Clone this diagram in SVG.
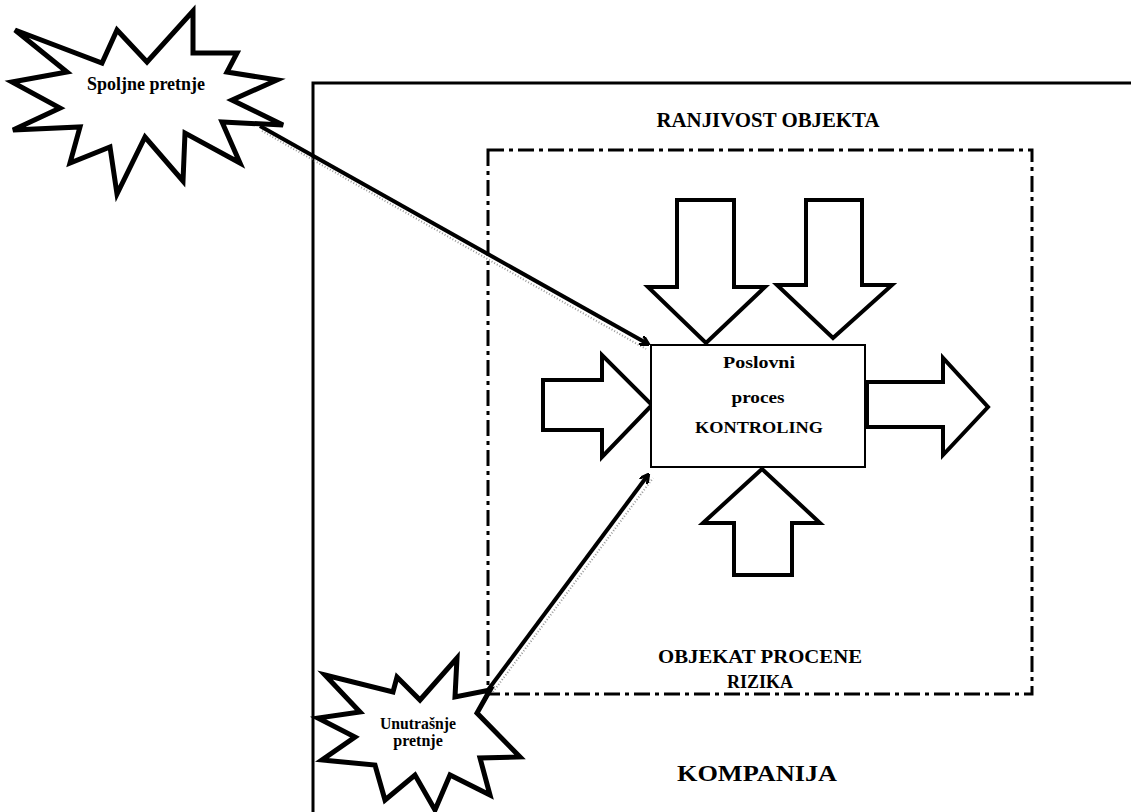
<svg xmlns="http://www.w3.org/2000/svg" width="1131" height="812" viewBox="0 0 1131 812">
<style>
.t{font-family:"Liberation Serif","Times New Roman",serif;font-weight:bold;fill:#000;text-anchor:middle}
.star{fill:#fff;stroke:#000;stroke-width:5;stroke-linejoin:miter}
.blk{fill:#fff;stroke:#000;stroke-width:4;stroke-linejoin:miter}
.conn{stroke:#000;stroke-width:4;fill:none}
.shadow{stroke:#999;stroke-width:2;stroke-dasharray:1 2;fill:none}
</style>
<defs>
<marker id="ah" markerWidth="10" markerHeight="10" refX="8" refY="5" orient="auto" markerUnits="userSpaceOnUse" viewBox="0 0 10 10">
<path d="M0,0 L9,5 L0,10" fill="none" stroke="#000" stroke-width="3"/>
</marker>
</defs>
<rect width="1131" height="812" fill="#fff"/>
<g id="kompanija">
<path d="M313,812 L313,83 L1131,83" fill="none" stroke="#000" stroke-width="3"/>
<text class="t" x="757" y="781" font-size="24" textLength="160" lengthAdjust="spacingAndGlyphs">KOMPANIJA</text>
</g>
<g id="objekat">
<rect x="488" y="150" width="544" height="544" fill="none" stroke="#000" stroke-width="3" stroke-dasharray="16 5 4 5"/>
<text class="t" x="768" y="127" font-size="20" textLength="223" lengthAdjust="spacingAndGlyphs">RANJIVOST OBJEKTA</text>
<text class="t" x="760" y="663" font-size="18" textLength="204" lengthAdjust="spacingAndGlyphs">OBJEKAT PROCENE</text>
<text class="t" x="760" y="688" font-size="18">RIZIKA</text>
</g>
<g id="arrow-top1"><polygon class="blk" points="677,200 734,200 734,287 765,287 706,343 648,287 677,287"/></g>
<g id="arrow-top2"><polygon class="blk" points="806,200 862,200 862,285 892,285 833,338 777,285 806,285"/></g>
<g id="arrow-left"><polygon class="blk" points="543,380 602,380 602,355 652,405 602,457 602,430 543,430"/></g>
<g id="arrow-right"><polygon class="blk" points="867,382 943,382 943,358 988,407 943,455 943,427 867,427"/></g>
<g id="arrow-bottom"><polygon class="blk" points="762,469 820,523 792,523 792,575 734,575 734,523 703,523"/></g>
<g id="proces">
<rect x="651" y="345" width="214" height="122" fill="#fff" stroke="#000" stroke-width="2"/>
<text class="t" x="759" y="368" font-size="17" textLength="72" lengthAdjust="spacingAndGlyphs">Poslovni</text>
<text class="t" x="758" y="403" font-size="17" textLength="53" lengthAdjust="spacingAndGlyphs">proces</text>
<text class="t" x="759" y="433" font-size="17" textLength="128" lengthAdjust="spacingAndGlyphs">KONTROLING</text>
</g>
<g id="connectors">
<line class="shadow" x1="262" y1="131" x2="646" y2="349"/>
<line class="conn" x1="260" y1="126" x2="648" y2="344" marker-end="url(#ah)"/>
<line class="shadow" x1="493" y1="692" x2="653" y2="478"/>
<line class="conn" x1="488" y1="690" x2="648" y2="475" marker-end="url(#ah)"/>
</g>
<g id="spoljne">
<polygon class="star" points="15,30 102,63 117,30 147,62 193,11 193,53 237,53 227,72 277,80 232,100 283,125 222,122 240,163 185,133 183,181 145,137 117,194 110,147 70,163 80,127 13,130 60,108 12,82 67,72"/>
<text class="t" x="146" y="90" font-size="18" textLength="118" lengthAdjust="spacingAndGlyphs">Spoljne pretnje</text>
</g>
<g id="unutrasnje">
<polygon class="star" points="325,675 393,692 397,677 420,700 457,658 455,697 490,690 477,713 520,757 480,758 490,795 450,775 435,810 415,775 385,800 375,765 322,760 355,737 318,718 360,712"/>
<text class="t" x="418" y="729" font-size="16" textLength="76" lengthAdjust="spacingAndGlyphs">Unutrašnje</text>
<text class="t" x="418" y="746" font-size="16">pretnje</text>
</g>
</svg>
